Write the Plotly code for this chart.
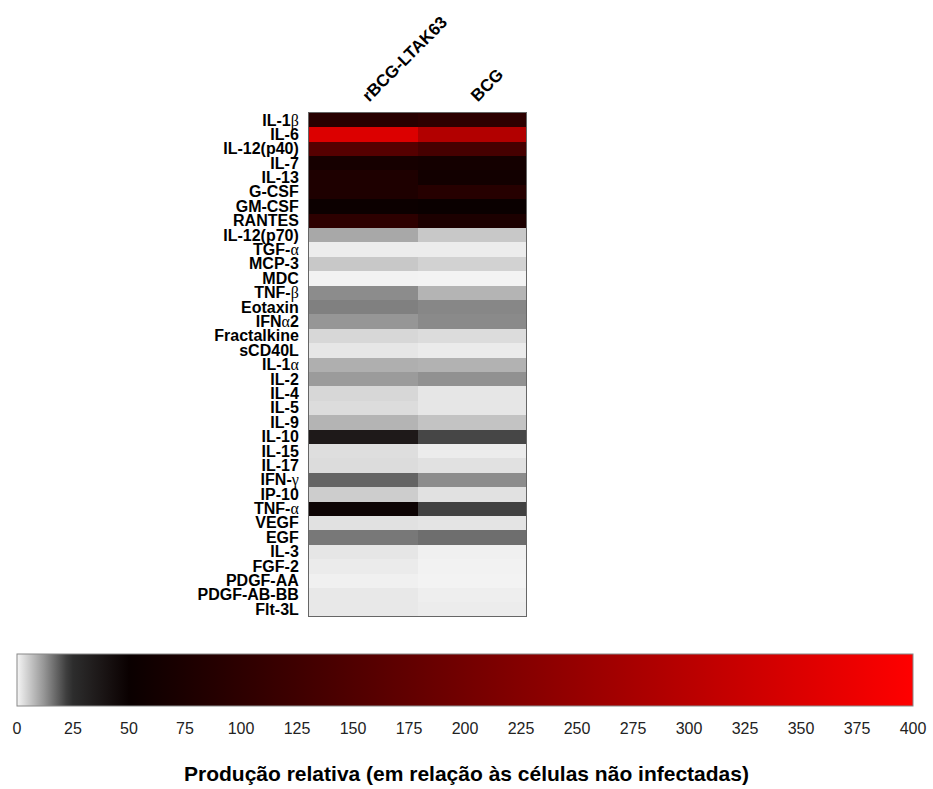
import plotly.graph_objects as go

G = "<span style='font-family:\"Liberation Serif\", serif;font-weight:normal'>{}</span>"

cytokines = [
    "IL-1" + G.format("β"), "IL-6", "IL-12(p40)", "IL-7", "IL-13", "G-CSF", "GM-CSF", "RANTES",
    "IL-12(p70)", "TGF-" + G.format("α"), "MCP-3", "MDC", "TNF-" + G.format("β"), "Eotaxin",
    "IFN" + G.format("α") + "2", "Fractalkine", "sCD40L", "IL-1" + G.format("α"), "IL-2", "IL-4",
    "IL-5", "IL-9", "IL-10", "IL-15", "IL-17", "IFN-" + G.format("γ"), "IP-10",
    "TNF-" + G.format("α"), "VEGF", "EGF", "IL-3", "FGF-2", "PDGF-AA", "PDGF-AB-BB", "Flt-3L",
]
groups = ["rBCG-LTAK63", "BCG"]

rbcg_ltak63 = [93, 350, 157, 67, 79, 79, 53, 100,
               9.7, 1.2, 5.7, 0.4, 13.1, 14.5, 12.0, 3.8, 1.9, 8.8, 11.4, 3.8,
               3.2, 8.2, 36, 2.9, 3.2, 17.7, 5.1, 48, 2.5, 15.4, 1.9, 1.3, 0.6, 1.6, 1.6]
bcg = [100, 290, 136, 64, 61, 90, 50, 76,
       5.7, 1.2, 4.4, 0.2, 8.2, 13.7, 13.4, 3.2, 1.3, 8.5, 12.6, 1.9,
       1.9, 6.3, 21.1, 1.2, 2.5, 13.1, 2.5, 21.7, 2.2, 16.5, 0.6, 0.4, 0.2, 0.9, 1.1]

cb_ticks = list(range(0, 401, 25))

z = [[a, b] for a, b in zip(rbcg_ltak63, bcg)]
row_idx = list(range(len(cytokines)))

colorscale = [
    [0.0, "rgb(245,245,245)"],
    [12 / 400, "rgb(150,150,150)"],
    [22 / 400, "rgb(62,62,62)"],
    [25 / 400, "rgb(45,45,45)"],
    [50 / 400, "rgb(10,0,0)"],
    [1.0, "rgb(255,0,0)"],
]

fig = go.Figure(
    go.Heatmap(
        z=z, x=groups, y=row_idx, zmin=0, zmax=400, colorscale=colorscale,
        colorbar=dict(
            orientation="h", x=0.4984, xanchor="center", y=1 - 655 / 789, yanchor="top",
            len=896 / 933, lenmode="fraction", thickness=52, thicknessmode="pixels",
            xpad=0, ypad=0, outlinecolor="#888", outlinewidth=1,
            tickvals=cb_ticks, ticktext=[str(t) for t in cb_ticks],
            ticks="outside", ticklen=9, tickcolor="rgba(0,0,0,0)",
            tickfont=dict(family="Liberation Sans, Arial", size=16, color="#222"),
        ),
    )
)

fig.update_layout(
    width=933, height=789, margin=dict(l=0, r=0, t=0, b=0),
    paper_bgcolor="white", plot_bgcolor="white",
    xaxis=dict(domain=[309 / 933, 526 / 933], side="top", tickangle=-45, ticks="",
               showline=True, mirror=True, linecolor="#666", linewidth=1,
               tickfont=dict(family="Liberation Sans, Arial", size=17, color="black", weight="bold")),
    yaxis=dict(domain=[1 - 617 / 789, 1 - 112 / 789], autorange="reversed", ticks="",
               tickmode="array", tickvals=row_idx, ticktext=cytokines,
               showline=True, mirror=True, linecolor="#666", linewidth=1,
               showgrid=False, zeroline=False, ticklabelstandoff=6,
               tickfont=dict(family="Liberation Sans, Arial", size=16, color="black", weight="bold")),
    annotations=[dict(
        text="Produção relativa (em relação às células não infectadas)",
        x=0.4995, y=1 - 774 / 789, xref="paper", yref="paper", xanchor="center", yanchor="middle",
        showarrow=False, font=dict(family="Liberation Sans, Arial", size=21, color="black", weight="bold"),
    )],
)

fig.write_html("out.html")
